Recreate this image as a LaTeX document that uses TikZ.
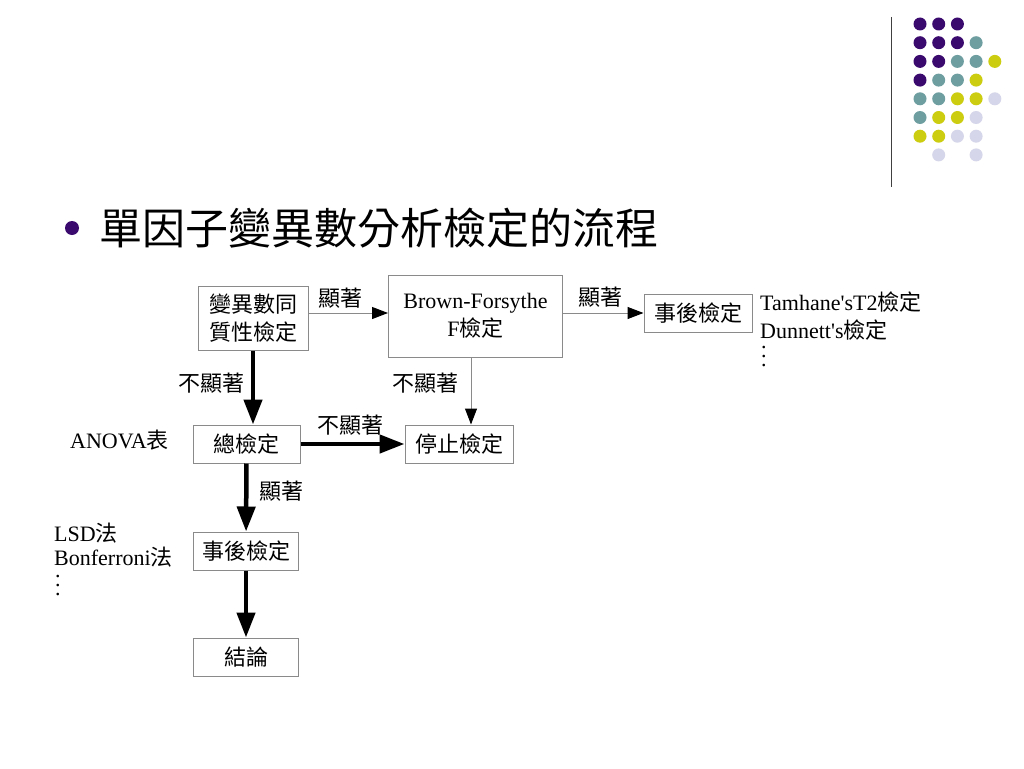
\documentclass[tikz,border=0pt]{standalone}
\usepackage{fontspec}
\setmainfont{Liberation Serif}[Ligatures=TeXOff]
\newfontfamily\cjkfont{Noto Sans CJK TC}
\usepackage{xcolor}
\usepackage{tikz}
\usetikzlibrary{positioning,arrows.meta}

\newcommand{\zh}[1]{{\cjkfont #1}}
\newcommand{\morelist}{\vbox{\baselineskip=9pt \lineskiplimit=0pt \hbox{.}\hbox{.}\hbox{.}}}

\definecolor{dotpurple}{HTML}{3B0A6E}
\definecolor{dotteal}{HTML}{6E9EA0}
\definecolor{dotyellow}{HTML}{CCCC10}
\definecolor{dotlilac}{HTML}{D6D6EA}
\definecolor{boxgray}{HTML}{8A8A8A}

\tikzset{
    flowbox/.style={rectangle, draw=boxgray, line width=1pt, inner sep=0pt, align=center, font=\fontsize{22}{28}\selectfont},
    thinarrow/.style={draw=boxgray, line width=1pt, -{Triangle[length=16pt,width=12pt,color=black]}},
    thickarrow/.style={draw=black, line width=4.5pt, -{Triangle[length=25pt,width=18pt]}},
    note/.style={inner sep=0pt, font=\fontsize{22}{28}\selectfont},
}

\begin{document}
\begin{tikzpicture}[x=1pt,y=-1pt]
    \useasboundingbox[fill=white] (0,0) rectangle (1024,768);

    % corner decoration
    \draw[line width=1.5pt, color=black!75] (891.5,17) -- (891.5,187);
    \foreach \col/\row/\clr in {0/0/dotpurple,1/0/dotpurple,2/0/dotpurple,
        0/1/dotpurple,1/1/dotpurple,2/1/dotpurple,3/1/dotteal,
        0/2/dotpurple,1/2/dotpurple,2/2/dotteal,3/2/dotteal,4/2/dotyellow,
        0/3/dotpurple,1/3/dotteal,2/3/dotteal,3/3/dotyellow,
        0/4/dotteal,1/4/dotteal,2/4/dotyellow,3/4/dotyellow,4/4/dotlilac,
        0/5/dotteal,1/5/dotyellow,2/5/dotyellow,3/5/dotlilac,
        0/6/dotyellow,1/6/dotyellow,2/6/dotlilac,3/6/dotlilac,
        1/7/dotlilac,3/7/dotlilac}
        \fill[\clr] (920+18.7*\col,24+18.7*\row) circle (6.5);

    % title
    \fill[dotpurple] (72,228) circle (7);
    \node(title) [anchor=west, inner sep=0pt, font=\fontsize{43}{48}\selectfont\cjkfont] at (99,228) {單因子變異數分析檢定的流程};

    % boxes
    \node(homog) [flowbox, minimum width=110pt, minimum height=64pt] at (253,318) {\zh{變異數同}\\\zh{質性檢定}};
    \node(brown) [flowbox, minimum width=174pt, minimum height=82pt] at (475.5,316) {Brown-Forsythe\\F\zh{檢定}};
    \node(posthocA) [flowbox, minimum width=108pt, minimum height=38pt] at (698,313) {\zh{事後檢定}};
    \node(overall) [flowbox, minimum width=107pt, minimum height=38pt] at (246.5,444) {\zh{總檢定}};
    \node(stop) [flowbox, minimum width=108pt, minimum height=38pt] at (459,444) {\zh{停止檢定}};
    \node(posthocB) [flowbox, minimum width=105pt, minimum height=38pt] at (246,551) {\zh{事後檢定}};
    \node(result) [flowbox, minimum width=105pt, minimum height=38pt] at (246,657) {\zh{結論}};

    % connectors
    \draw[thinarrow] (homog.east |- posthocA.west) -- (brown.west |- posthocA.west);
    \draw[thinarrow] (brown.east |- posthocA.west) -- (posthocA.west);
    \draw[thinarrow] ([xshift=12pt]stop.north |- brown.south) -- ([xshift=12pt]stop.north);
    \draw[thickarrow] (homog) -- (homog |- overall.north);
    \draw[thickarrow] (overall) -- (stop);
    \draw[thickarrow] (overall) -- (posthocB);
    \draw[thickarrow] (posthocB) -- (result);

    % connector labels
    \node(sigAB) [note] at (340,298) {\zh{顯著}};
    \node(sigBE) [note] at (600,297) {\zh{顯著}};
    \node(nsAC) [note] at (211,383) {\zh{不顯著}};
    \node(nsBD) [note] at (425,383) {\zh{不顯著}};
    \node(nsCD) [note] at (350,425) {\zh{不顯著}};
    \node(sigCF) [note] at (281,491) {\zh{顯著}};

    % side notes
    \node(anova) [note, anchor=west] at (70,440) {ANOVA\zh{表}};
    \node(lsd) [note, anchor=west] at (54,533) {LSD\zh{法}};
    \node(bonf) [note, anchor=west] at (54,557) {Bonferroni\zh{法}};
    \node(moreB) [note, anchor=west] at (55,586) {\morelist};
    \node(tamhane) [note, anchor=west] at (760,302) {Tamhane'sT2\zh{檢定}};
    \node(dunnett) [note, anchor=west] at (760,330) {Dunnett's\zh{檢定}};
    \node(moreA) [note, anchor=west] at (761,357) {\morelist};
\end{tikzpicture}
\end{document}
